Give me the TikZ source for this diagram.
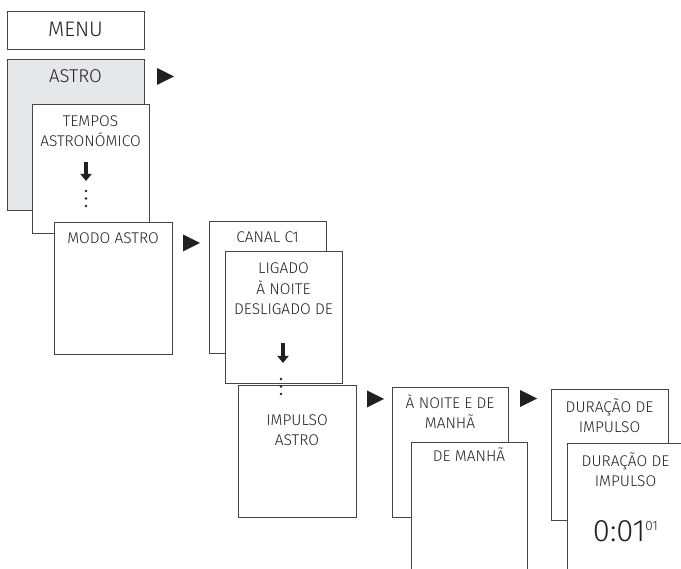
\documentclass[tikz,border=0pt]{standalone}
\usepackage{fontspec}
\setmainfont{Fira Sans Light}
\usepackage{tikz}
\usetikzlibrary{arrows.meta,positioning}
\definecolor{MenuGris} {RGB}{230,231,233}
\definecolor{MenuLinea}{RGB}{70, 70, 70}
\definecolor{MenuTexto}{RGB}{35, 31, 32}

\tikzset{
  pantalla/.style={draw=MenuLinea, fill=white, line width=0.9pt,
                   inner sep=0pt, outer sep=0pt, anchor=north west},
  texto/.style={font=\fontsize{15.5}{20.5}\selectfont, text=MenuTexto,
                align=center, anchor=base, inner sep=0pt},
  bajar/.style={line width=4.6pt, MenuTexto, -{Triangle[width=11pt,length=7pt]}}
}
\newcommand{\siguiente}[1]{\fill[MenuTexto] (#1) ++(0,-8.5) -- ++(17,8.5) -- ++(-17,8.5) -- cycle;}
\newcommand{\puntos}[1]{\fill[MenuTexto] (#1) circle (1.4) ++(0,7.5) circle (1.4) ++(0,7.5) circle (1.4);}

\begin{document}
\begin{tikzpicture}[x=1pt, y=-1pt]
\useasboundingbox (0,0) rectangle (681,569);
\clip (0,0) rectangle (681,569);
% primera columna (base = ultima linha do texto)
\node[pantalla, minimum width=137pt, minimum height=38pt] (menu) at (7,11) {};
\node[texto, font=\fontsize{21}{24}\selectfont, yshift=-26pt] at (menu.north) {MENU};
\node[pantalla, fill=MenuGris, minimum width=137pt, minimum height=151pt] (astro) at (7,59) {};
\node[texto, font=\fontsize{18.5}{22}\selectfont, yshift=-24pt] at (astro.north) {ASTRO};
\siguiente{157,76.5}
\node[pantalla, minimum width=117pt, minimum height=129pt] (tempos) at (32,104) {};
\node[texto, yshift=-43pt] at (tempos.north) {TEMPOS\\ASTRONÓMICO};
\draw[bajar] (86,162) -- (86,181);
\puntos{86,191}
\node[pantalla, minimum width=118pt, minimum height=132pt] (modo) at (54,222) {};
\node[texto, yshift=-22pt] at (modo.north) {MODO ASTRO};
\siguiente{183,243}
% canal
\node[pantalla, minimum width=117pt, minimum height=132pt] (canal) at (209,221) {};
\node[texto, yshift=-22pt] at (canal.north) {CANAL C1};
\node[pantalla, minimum width=117pt, minimum height=132pt] (ligado) at (225,251) {};
\node[texto, yshift=-64pt] at (ligado.north) {LIGADO\\À NOITE\\DESLIGADO DE};
\draw[bajar] (283,343) -- (283,363);
\node[pantalla, minimum width=118pt, minimum height=132pt] (impulso) at (238,385) {};
\node[texto, yshift=-61pt] at (impulso.north) {IMPULSO\\ASTRO};
\puntos{281,379}
\siguiente{367,399}
% modo impulso
\node[pantalla, minimum width=116pt, minimum height=130pt] (noite) at (392,387) {};
\node[texto, yshift=-42pt] at (noite.north) {À NOITE E DE\\MANHÃ};
\node[pantalla, minimum width=116pt, minimum height=160pt] (manha) at (411,442) {};
\node[texto, yshift=-20pt] at (manha.north) {DE MANHÃ};
\siguiente{520,398.5}
% duracao
\node[pantalla, minimum width=117pt, minimum height=131pt] (duracao) at (551,389) {};
\node[texto, yshift=-44pt] at (duracao.north) {DURAÇÃO DE\\IMPULSO};
\node[pantalla, minimum width=117pt, minimum height=160pt] (duracaoB) at (567,443) {};
\node[texto, yshift=-44pt] at (duracaoB.north) {DURAÇÃO DE\\IMPULSO};
\node[texto, font=\fontsize{31}{34}\selectfont, yshift=-99pt] at (duracaoB.north)
  {0:01\raisebox{11pt}{\fontsize{13.5}{15}\selectfont 01}};
\end{tikzpicture}
\end{document}
